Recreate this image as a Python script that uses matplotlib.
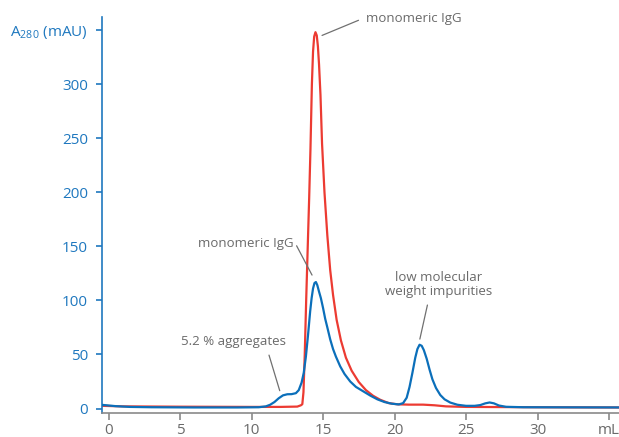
import matplotlib.pyplot as plt
import matplotlib as mpl

mpl.rcParams['font.family'] = ['Open Sans', 'DejaVu Sans']
mpl.rcParams['mathtext.fontset'] = 'custom'
mpl.rcParams['mathtext.rm'] = 'Open Sans'

# blue trace (A280, sample with aggregates)
blue_x = [-0.46, 0.5, 1.5, 3, 6, 9, 10.5, 11.0, 11.3, 11.6, 11.9, 12.2, 12.5, 12.8, 13.1, 13.3,
          13.5, 13.65, 13.8, 13.95, 14.1, 14.2, 14.3, 14.4, 14.5, 14.6, 14.7, 14.85, 15.0, 15.15,
          15.3, 15.5, 15.7, 15.9, 16.2, 16.5, 16.9, 17.3, 17.8, 18.3, 18.8, 19.3, 19.8, 20.3,
          20.6, 20.85, 21.05, 21.25, 21.45, 21.6, 21.75, 21.9, 22.05, 22.25, 22.45, 22.65, 22.9,
          23.2, 23.5, 23.9, 24.4, 25.0, 25.6, 26.0, 26.35, 26.65, 26.95, 27.3, 27.8, 29, 32, 35.7]
blue_y = [3.4, 2.2, 1.5, 1.2, 1.0, 1.0, 1.2, 2.0, 3.5, 6, 9.5, 12.2, 13.2, 13.3, 14.2, 17,
          24, 33, 48, 68, 90, 102, 111, 116, 117, 114, 109, 102, 93, 83,
          75, 64, 55, 48, 39, 32, 25, 20, 16, 12, 8.5, 6, 4.5, 3.8,
          5, 10, 20, 33, 47, 55, 59, 58, 54, 46, 36, 27, 19,
          12.5, 8.5, 5.5, 3.5, 2.5, 2.5, 3.2, 4.8, 5.6, 4.8, 2.8, 1.6, 1.2, 1.1, 1.0]

# red trace (monomeric IgG)
red_x = [-0.46, 1, 5, 10, 12, 13.2, 13.45, 13.55, 13.63, 13.72, 13.82, 13.93, 14.03, 14.12,
         14.22, 14.3, 14.38, 14.47, 14.56, 14.64, 14.72, 14.82, 14.93, 15.1, 15.3, 15.5, 15.7,
         15.95, 16.25, 16.6, 17.0, 17.5, 18.0, 18.5, 19.0, 19.6, 20.2, 21, 22, 22.8, 23.6, 25,
         30, 35.7]
red_y = [2.5, 2, 1.7, 1.5, 1.5, 1.8, 3, 4, 15, 50, 100, 150, 195, 240,
         300, 330, 344, 348, 345, 335, 318, 290, 245, 200, 160, 128, 105,
         82, 63, 47, 35, 24.5, 17, 11.8, 8.1, 5, 3.9, 3.6, 3.6, 3.0, 2.0, 1.5,
         1.2, 1.0]

y_ticks = [0, 50, 100, 150, 200, 250, 300, 350]
y_labels = ['0', '50', '100', '150', '200', '250', '300', 'A$_{280}$ (mAU)']
x_ticks = [0, 5, 10, 15, 20, 25, 30, 35]
x_labels = ['0', '5', '10', '15', '20', '25', '30', 'mL']

blue_c = '#0b6fba'
red_c = '#ec3b32'
axis_blue = '#1f78bf'
grey_txt = '#6a6a6a'
line_grey = '#707070'

fig = plt.figure(figsize=(6.19, 4.37), dpi=100)
ax = fig.add_axes([0.1648, 0.054, 0.8352, 0.907])

ax.plot(red_x, red_y, color=red_c, linewidth=1.6, zorder=2)
ax.plot(blue_x, blue_y, color=blue_c, linewidth=1.6, zorder=3)

ax.set_xlim(-0.46, 35.7)
ax.set_ylim(-4.5, 362)

ax.spines['top'].set_visible(False)
ax.spines['right'].set_visible(False)
ax.spines['left'].set_color(axis_blue)
ax.spines['left'].set_linewidth(1.2)
ax.spines['bottom'].set_color('#8a8a8a')
ax.spines['bottom'].set_linewidth(1.2)

ax.set_yticks(y_ticks)
ax.set_yticklabels(y_labels)
ax.set_xticks(x_ticks)
ax.set_xticklabels(x_labels)
ax.tick_params(axis='y', colors=axis_blue, labelsize=11, length=4, width=1.2, pad=6)
ax.tick_params(axis='x', colors='#8a8a8a', labelcolor=grey_txt, labelsize=11, length=5, width=1.2, pad=2)

txt_kw = dict(fontsize=9.5, color=grey_txt)
arrow_kw = dict(arrowstyle='-', color=line_grey, linewidth=0.9, shrinkA=0, shrinkB=0)

ax.annotate('', xy=(14.93, 345), xytext=(17.48, 359), arrowprops=arrow_kw)
ax.text(17.97, 361, 'monomeric IgG', ha='left', va='center', clip_on=False, **txt_kw)

ax.annotate('', xy=(14.23, 123.4), xytext=(13.15, 150.5), arrowprops=arrow_kw)
ax.text(12.96, 153, 'monomeric IgG', ha='right', va='center', **txt_kw)

ax.annotate('', xy=(11.97, 16.5), xytext=(11.22, 49.4), arrowprops=arrow_kw)
ax.text(8.72, 62.4, '5.2 % aggregates', ha='center', va='center', **txt_kw)

ax.annotate('', xy=(21.77, 64.2), xytext=(22.3, 95.7), arrowprops=arrow_kw)
ax.text(23.1, 114.6, 'low molecular\nweight impurities', ha='center', va='center',
        linespacing=1.1, **txt_kw)

plt.savefig('out.png', dpi=100)
